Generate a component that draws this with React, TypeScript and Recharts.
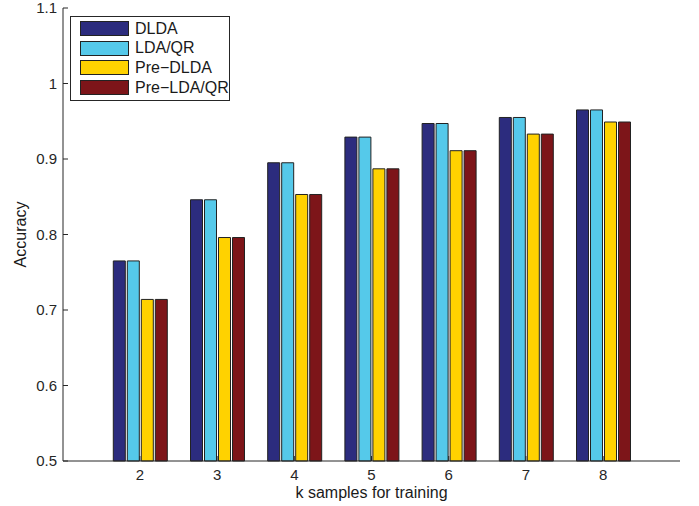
import React from 'react';
import { BarChart, Bar, XAxis, YAxis, Legend, Label } from 'recharts';

const categories = [2, 3, 4, 5, 6, 7, 8];
const dldaValues = [0.765, 0.846, 0.895, 0.929, 0.947, 0.955, 0.965];
const ldaqrValues = [0.765, 0.846, 0.895, 0.929, 0.947, 0.955, 0.965];
const preDldaValues = [0.714, 0.796, 0.853, 0.887, 0.911, 0.933, 0.949];
const preLdaqrValues = [0.714, 0.796, 0.853, 0.887, 0.911, 0.933, 0.949];
const yTicks = [0.5, 0.6, 0.7, 0.8, 0.9, 1, 1.1];

const seriesNames = ['DLDA', 'LDA/QR', 'Pre\u2212DLDA', 'Pre\u2212LDA/QR'];
const seriesKeys = ['dlda', 'ldaqr', 'preDlda', 'preLdaqr'];
const seriesColors = ['#2C2C7E', '#55C9EA', '#FFD200', '#7D1519'];

const data = categories.map((k, i) => ({
  k,
  dlda: dldaValues[i],
  ldaqr: ldaqrValues[i],
  preDlda: preDldaValues[i],
  preLdaqr: preLdaqrValues[i],
}));

const FONT = '"Liberation Sans", Arial, Helvetica, sans-serif';
const AXIS = '#262626';

const LegendBox = () => (
  <div
    style={{
      border: `1px solid ${AXIS}`,
      background: '#fff',
      width: 158,
      height: 81,
      boxSizing: 'content-box',
      fontFamily: FONT,
      fontSize: 16,
      color: '#1a1a1a',
      paddingTop: 2,
    }}
  >
    {seriesNames.map((n, i) => (
      <div key={n} style={{ display: 'flex', alignItems: 'center', height: 19.6, marginLeft: 9 }}>
        <div
          style={{
            width: 47,
            height: 13,
            background: seriesColors[i],
            border: '1px solid #222',
            marginRight: 6,
          }}
        />
        <span style={{ lineHeight: '16px' }}>{n}</span>
      </div>
    ))}
  </div>
);

const YLabel = (props: any) => {
  const vb = props.viewBox || { x: 0, y: 0, width: 63, height: 453 };
  const cx = vb.x + 20;
  const cy = vb.y + vb.height / 2;
  return (
    <text
      x={cx}
      y={cy}
      transform={`rotate(-90 ${cx} ${cy})`}
      textAnchor="middle"
      fontFamily={FONT}
      fontSize={16}
      fill="#1a1a1a"
      dominantBaseline="central"
    >
      Accuracy
    </text>
  );
};

const XLabel = (props: any) => {
  const vb = props.viewBox || { x: 63, y: 461, width: 617, height: 45 };
  return (
    <text
      x={vb.x + vb.width / 2}
      y={vb.y + 37}
      textAnchor="middle"
      fontFamily={FONT}
      fontSize={16}
      fill="#1a1a1a"
    >
      k samples for training
    </text>
  );
};

export default function App() {
  const tickStyle = { fontFamily: FONT, fontSize: 15, fill: '#262626' };
  return (
    <div style={{ position: 'absolute', left: 0, top: 0, background: '#fff' }}>
      <BarChart
        width={699}
        height={506}
        data={data}
        margin={{ top: 8, right: 19, bottom: 0, left: 0 }}
        barGap={2}
        barSize={12}
      >
        <XAxis
          dataKey="k"
          type="category"
          height={45}
          padding={{ left: 38.3, right: 38.3 }}
          tick={tickStyle}
          tickSize={-5}
          tickMargin={13}
          stroke={AXIS}
          axisLine={{ stroke: AXIS }}
          tickLine={{ stroke: AXIS }}
        >
          <Label content={<XLabel />} />
        </XAxis>
        <XAxis
          xAxisId="top"
          dataKey="k"
          type="category"
          orientation="top"
          height={0}
          padding={{ left: 38.3, right: 38.3 }}
          tick={false}
          tickSize={-5}
          axisLine={{ stroke: AXIS }}
          tickLine={{ stroke: AXIS }}
        />
        <YAxis
          domain={[0.5, 1.1]}
          ticks={yTicks}
          width={63}
          tick={tickStyle}
          tickSize={-5}
          tickMargin={11}
          interval={0}
          axisLine={{ stroke: AXIS }}
          tickLine={{ stroke: AXIS }}
        >
          <Label content={<YLabel />} />
        </YAxis>
        <YAxis
          yAxisId="right"
          orientation="right"
          domain={[0.5, 1.1]}
          ticks={yTicks}
          width={0}
          tick={false}
          tickSize={-5}
          interval={0}
          axisLine={{ stroke: AXIS }}
          tickLine={{ stroke: AXIS }}
        />
        <Legend
          layout="horizontal"
          verticalAlign="middle"
          align="center"
          content={<LegendBox />}
          wrapperStyle={{ left: 70, top: 16, width: 'auto', height: 'auto' }}
        />
        {seriesKeys.map((key, i) => (
          <Bar
            key={key}
            dataKey={key}
            name={seriesNames[i]}
            fill={seriesColors[i]}
            stroke="#222"
            strokeWidth={1}
            isAnimationActive={false}
          />
        ))}
      </BarChart>
    </div>
  );
}
